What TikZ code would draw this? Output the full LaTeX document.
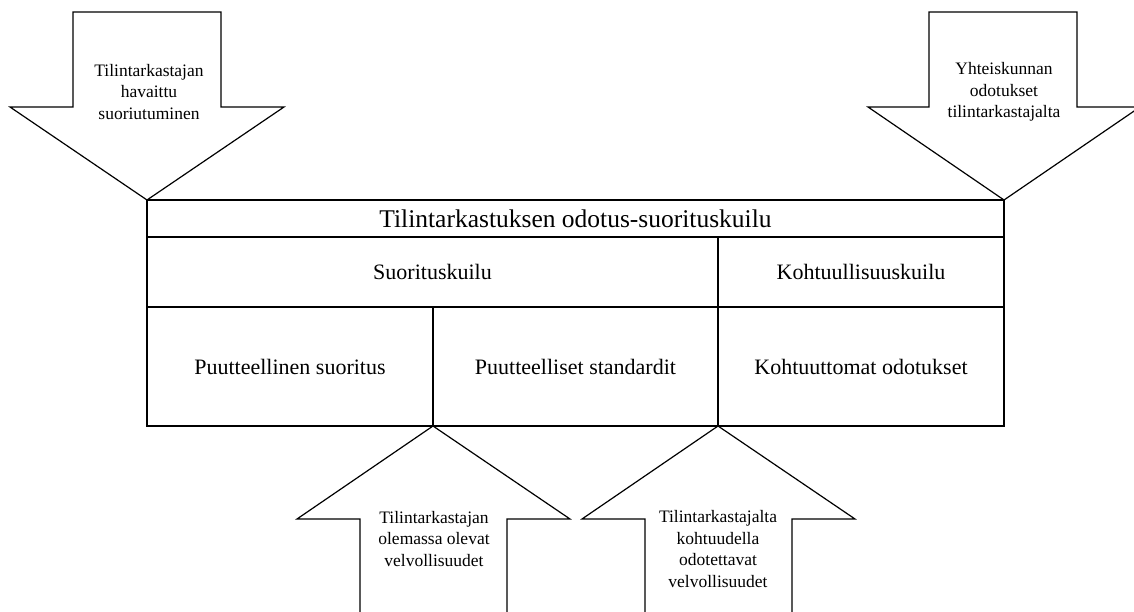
\documentclass[tikz,border=0pt]{standalone}
\usepackage{fontspec}
\setmainfont{Liberation Serif}
\usepackage{tikz}

\begin{document}
\begin{tikzpicture}[
		x=1pt, y=-1pt,
		every node/.style={inner sep=0pt, align=center},
		arrowtext/.style={font=\fontsize{17.5}{21.5}\selectfont},
		celltext/.style={font=\fontsize{22}{26}\selectfont},
		titletext/.style={font=\fontsize{25.5}{30}\selectfont},
		blockarrow/.style={draw, line width=1.2pt, line join=miter},
		gridline/.style={draw, line width=1.2pt}
	]
  \clip (0,0) rectangle (1134,612);
  % arrows from above
  \path[blockarrow] (73,12) -- (221,12) -- (221,107) -- (284,107) -- (147,200) -- (10,107) -- (73,107) -- cycle;
  \path[blockarrow] (929,12) -- (1077,12) -- (1077,107) -- (1140,107) -- (1004,200) -- (868,107) -- (929,107) -- cycle;
  % arrows from below
  \path[blockarrow] (360,614) -- (360,519) -- (297,519) -- (433,426) -- (570,519) -- (507,519) -- (507,614);
  \path[blockarrow] (645,614) -- (645,519) -- (582,519) -- (718,426) -- (855,519) -- (792,519) -- (792,614);
  % table
  \path[gridline] (147,200) rectangle (1004,426);
  \path[gridline] (147,237) -- (1004,237);
  \path[gridline] (147,307) -- (1004,307);
  \path[gridline] (718,237) -- (718,426);
  \path[gridline] (433,307) -- (433,426);

  \node (havaittu) [arrowtext] at (149,92) {Tilintarkastajan\\havaittu\\suoriutuminen};
  \node (yhteiskunta) [arrowtext] at (1004,92) {Yhteiskunnan\\odotukset\\tilintarkastajalta};
  \node (olevat) [arrowtext] at (434,539) {Tilintarkastajan\\olemassa olevat\\velvollisuudet};
  \node (odotettavat) [arrowtext] at (718,549) {Tilintarkastajalta\\kohtuudella\\odotettavat\\velvollisuudet};

  \node (kuilu) [titletext] at (575.5,219) {Tilintarkastuksen odotus-suorituskuilu};
  \node (suoritus) [celltext] at (432.5,272) {Suorituskuilu};
  \node (kohtuus) [celltext] at (861,272) {Kohtuullisuuskuilu};
  \node (puute_s) [celltext] at (290,367) {Puutteellinen suoritus};
  \node (puute_std) [celltext] at (575.5,367) {Puutteelliset standardit};
  \node (kohtuuton) [celltext] at (861,367) {Kohtuuttomat odotukset};
\end{tikzpicture}
\end{document}
